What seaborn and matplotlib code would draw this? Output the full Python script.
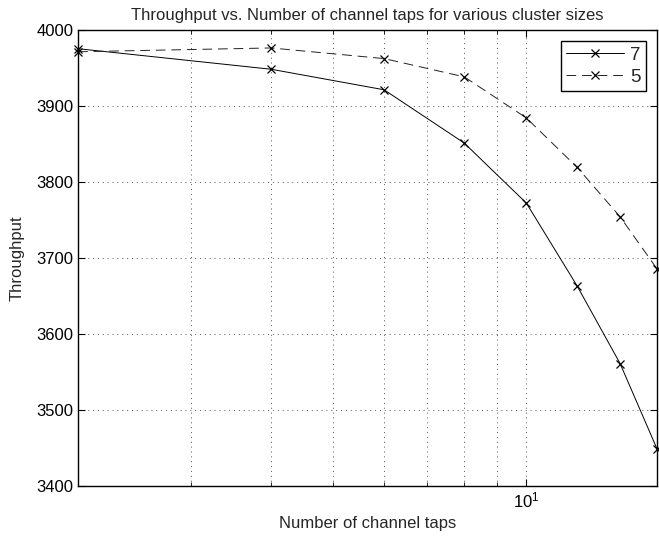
"""
Throughput vs. number of channel taps for two cluster sizes
"""

import matplotlib
matplotlib.use("Agg")
import matplotlib.pyplot as plt
from matplotlib.ticker import NullFormatter
import seaborn as sns

# Values
taps = [2, 4, 6, 8, 10, 12, 14, 16]
throughput_7 = [3975, 3948, 3921, 3851, 3772, 3663, 3561, 3448]
throughput_5 = [3971, 3976, 3962, 3938, 3884, 3819, 3754, 3685]
y_ticks = [3400, 3500, 3600, 3700, 3800, 3900, 4000]

sns.set_style("ticks")
plt.rcParams['font.family'] = ['Liberation Sans', 'DejaVu Sans']
plt.rcParams['mathtext.fontset'] = 'custom'
plt.rcParams['mathtext.rm'] = 'Liberation Sans'
plt.rcParams['xtick.direction'] = 'in'
plt.rcParams['ytick.direction'] = 'in'

fig = plt.figure(figsize=(6.59, 5.37), dpi=100)
ax = fig.add_axes([0.1184, 0.095, 0.879, 0.8497])

line_kw = dict(color='black', marker='x', markersize=6, linewidth=0.7, clip_on=False)
sns.lineplot(x=taps, y=throughput_7, label='7', ax=ax, **line_kw)
sns.lineplot(x=taps, y=throughput_5, label='5', ax=ax, **line_kw)
for line in ax.lines:
    line.set_markeredgecolor('black')
    line.set_markerfacecolor('none')
    line.set_markeredgewidth(0.9)
ax.lines[1].set_dashes((10, 6))
ax.lines[1].set_color('#222222')

ax.set_xscale('log')
ax.set_xlim(2, 16)
ax.set_ylim(3400, 4000)
ax.set_yticks(y_ticks)
ax.xaxis.set_minor_formatter(NullFormatter())

# MATLAB-like box, inward ticks on every side and dotted grid
for spine in ax.spines.values():
    spine.set_visible(True)
    spine.set_linewidth(1.0)
    spine.set_color('black')
ax.tick_params(which='both', top=True, right=True, labelsize=12, colors='black')
ax.tick_params(which='major', length=5, width=0.8)
ax.tick_params(which='minor', length=3, width=0.6)
ax.grid(True, which='both', linestyle=(0, (1, 4)), color='#555555', linewidth=0.7)

ax.set_title('Throughput vs. Number of channel taps for various cluster sizes',
             fontsize=12, pad=7)
ax.set_xlabel('Number of channel taps', fontsize=12, labelpad=4)
ax.set_ylabel('Throughput', fontsize=12, labelpad=8)

leg = ax.legend(loc='upper right', fontsize=13.5, handlelength=3.1,
                handletextpad=0.3, labelspacing=0.25, borderpad=0.3,
                borderaxespad=0.6, fancybox=False, framealpha=1)
leg.get_frame().set_edgecolor('black')
leg.get_frame().set_linewidth(1.0)

fig.savefig('out.png', dpi=100)
plt.close(fig)
